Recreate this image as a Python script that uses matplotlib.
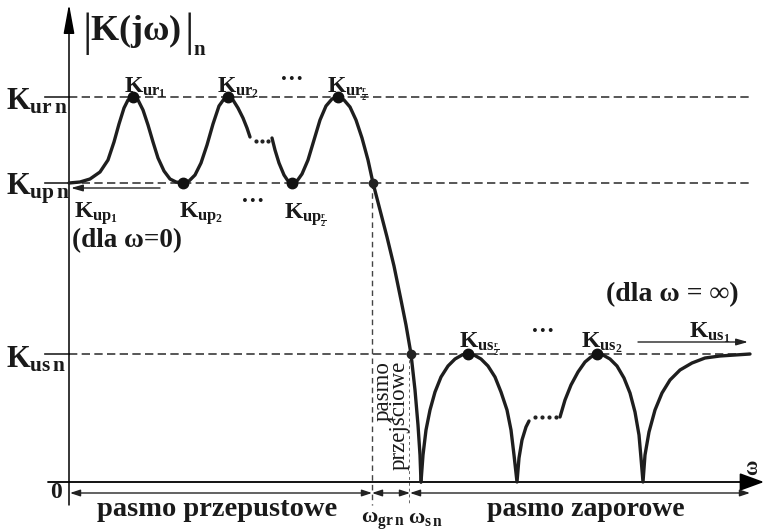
import matplotlib
matplotlib.use("Agg")
import matplotlib.pyplot as plt
import matplotlib.transforms as mtransforms

plt.rcParams['font.family'] = ['Liberation Serif', 'DejaVu Serif']
plt.rcParams['font.weight'] = 'bold'
plt.rcParams['mathtext.fontset'] = 'custom'
plt.rcParams['mathtext.rm'] = 'Liberation Serif:bold'
plt.rcParams['mathtext.it'] = 'Liberation Serif:bold'
plt.rcParams['mathtext.bf'] = 'Liberation Serif:bold'

# characteristic levels |K(jw)|_n and band edges
K_urn = 3.86
K_upn = 3.00
K_usn = 1.29
w_grn = 3.03
w_sn = 3.41
w_end = 6.81

# response, piece by piece (gaps are the "..." parts)
w_a = [0, 0.11, 0.21, 0.31, 0.39, 0.45, 0.50, 0.55, 0.59, 0.64, 0.69, 0.74, 0.79, 0.84,
       0.89, 0.95, 1.01, 1.07, 1.14, 1.20, 1.26, 1.32, 1.38, 1.44, 1.50, 1.55, 1.59, 1.64,
       1.69, 1.74, 1.78, 1.81]
k_a = [3.00, 3.01, 3.04, 3.11, 3.23, 3.41, 3.59, 3.75, 3.83, 3.86, 3.83, 3.73, 3.58, 3.41,
       3.25, 3.12, 3.04, 3.01, 3.00, 3.02, 3.08, 3.20, 3.38, 3.59, 3.77, 3.84, 3.86, 3.83,
       3.75, 3.65, 3.55, 3.46]

w_b = [2.03, 2.06, 2.10, 2.15, 2.19, 2.23, 2.28, 2.33, 2.39, 2.45, 2.51, 2.57, 2.63, 2.69,
       2.75, 2.81, 2.87, 2.93, 2.99, 3.04, 3.11, 3.18, 3.25, 3.32, 3.37, 3.42, 3.46, 3.49,
       3.51, 3.52]
k_b = [3.45, 3.33, 3.20, 3.08, 3.02, 3.00, 3.02, 3.09, 3.23, 3.43, 3.63, 3.77, 3.84, 3.86,
       3.83, 3.76, 3.63, 3.45, 3.23, 3.00, 2.73, 2.46, 2.17, 1.83, 1.58, 1.29, 0.93, 0.58,
       0.28, 0.01]

w_c = [3.52, 3.54, 3.57, 3.61, 3.66, 3.72, 3.79, 3.86, 3.93, 3.99, 4.05, 4.12, 4.19, 4.26,
       4.32, 4.38, 4.42, 4.45, 4.48, 4.50, 4.53, 4.57, 4.60]
k_c = [0.01, 0.28, 0.53, 0.73, 0.91, 1.06, 1.17, 1.24, 1.28, 1.29, 1.28, 1.24, 1.17, 1.06,
       0.91, 0.73, 0.53, 0.28, 0.01, 0.25, 0.43, 0.56, 0.62]

w_d = [4.91, 4.96, 5.02, 5.09, 5.16, 5.22, 5.28, 5.34, 5.41, 5.48, 5.55, 5.61, 5.66, 5.70,
       5.72, 5.74, 5.76, 5.80, 5.86, 5.93, 6.01, 6.11, 6.23, 6.36, 6.51, 6.66, 6.81]
k_d = [0.66, 0.83, 0.98, 1.11, 1.21, 1.26, 1.29, 1.28, 1.24, 1.17, 1.05, 0.90, 0.71, 0.48,
       0.25, 0.01, 0.28, 0.51, 0.73, 0.90, 1.03, 1.13, 1.20, 1.25, 1.27, 1.28, 1.29]

# marked extrema
w_ur = [0.64, 1.59, 2.69]
w_up = [1.14, 2.23]
w_us = [3.99, 5.28]
w_cross = [3.04, 3.42]
k_cross = [3.00, 1.29]

# "..." dots on the curve
w_dots1 = [1.87, 1.93, 1.99]
k_dots1 = [3.42, 3.42, 3.42]
w_dots2 = [4.66, 4.73, 4.80, 4.87]
k_dots2 = [0.66, 0.66, 0.66, 0.66]

fig = plt.figure(figsize=(7.64, 5.31), dpi=100)
ax = fig.add_axes([0, 0, 1, 1])
ax.set_xlim(-0.69, 6.95)
ax.set_ylim(-0.48, 4.83)
ax.axis('off')

# helper transform: positions given in pixels of the 764x531 picture (top-left origin)
pix = mtransforms.Affine2D().scale(1 / 764, -1 / 531).translate(0, 1) + fig.transFigure

curve = dict(color='#1e1e1e', lw=2.4, solid_capstyle='round', zorder=4)
dash = dict(color='#3a3a3a', lw=1.2, dashes=(5, 2.6), zorder=2)

# dashed levels and short solid ticks on the left
for lev in [K_urn, K_upn, K_usn]:
    ax.plot([0, w_end], [lev, lev], **dash)
    ax.plot([-0.24, 0], [lev, lev], color='#222', lw=1.2)

# vertical dashed band edges
ax.plot([w_grn, w_grn], [K_upn, -0.22], color='#444', lw=1.0, dashes=(4, 3))
ax.plot([w_sn - 0.01, w_sn - 0.01], [K_usn, -0.2], color='#666', lw=0.7, dashes=(3, 3))

# axes
ax.annotate('', xy=(6.95, 0.01), xytext=(-0.21, 0.01),
            arrowprops=dict(arrowstyle='-|>,head_length=1.5,head_width=0.55', lw=1.3,
                            color='black', shrinkA=0, shrinkB=0))
ax.annotate('', xy=(0, 4.79), xytext=(0, -0.22),
            arrowprops=dict(arrowstyle='-|>,head_length=1.8,head_width=0.33', lw=1.1,
                            color='black', shrinkA=0, shrinkB=0))

# band arrows under the axis
arr = dict(arrowstyle='<|-|>,head_length=0.6,head_width=0.2', lw=1.0, color='#222',
           shrinkA=0, shrinkB=0)
ax.annotate('', xy=(0.01, -0.10), xytext=(w_grn, -0.10), arrowprops=arr)
ax.annotate('', xy=(w_grn, -0.10), xytext=(w_sn, -0.10), arrowprops=arr)
ax.annotate('', xy=(w_sn, -0.10), xytext=(w_end, -0.10), arrowprops=arr)

# small arrows for K_up1 and K_us1
ax.annotate('', xy=(0.02, 2.95), xytext=(0.91, 2.95),
            arrowprops=dict(arrowstyle='-|>,head_length=0.7,head_width=0.2', lw=1.0,
                            color='#222', shrinkA=0, shrinkB=0))
ax.annotate('', xy=(6.79, 1.41), xytext=(5.69, 1.41),
            arrowprops=dict(arrowstyle='-|>,head_length=0.7,head_width=0.2', lw=1.0,
                            color='#222', shrinkA=0, shrinkB=0))

# response curve
ax.plot(w_a, k_a, **curve)
ax.plot(w_b, k_b, **curve)
ax.plot(w_c, k_c, **curve)
ax.plot(w_d, k_d, **curve)
ax.plot(w_dots1, k_dots1, 'o', color='#222', ms=2)
ax.plot(w_dots2, k_dots2, 'o', color='#222', ms=2)

# markers
ax.plot(w_ur, [K_urn] * len(w_ur), 'o', color='#111', ms=7.5, zorder=5)
ax.plot(w_up, [K_upn] * len(w_up), 'o', color='#111', ms=7.5, zorder=5)
ax.plot(w_us, [K_usn] * len(w_us), 'o', color='#111', ms=7.5, zorder=5)
ax.plot(w_cross, k_cross, 'o', color='#222', ms=6, zorder=5)

# labels
def lab(x, y, s, fs=17, **kw):
    ax.text(x, y, s, transform=pix, fontsize=fs, color='#1a1a1a', **kw)

# title |K(jw)|_n with tall bars
lab(82, 34, '|', fs=34, va='center', fontweight='normal')
lab(90, 40, r'$K(j\omega)$', fs=26, va='baseline')
lab(184, 34, '|', fs=34, va='center', fontweight='normal')
lab(193, 55, 'n', fs=15, va='baseline')

lab(6, 109, r'$K_{ur\,n}$', fs=22, va='baseline')
lab(6, 194, r'$K_{up\,n}$', fs=22, va='baseline')
lab(6, 368, r'$K_{us\,n}$', fs=22, va='baseline')

lab(124, 92, r'$K_{ur_1}$', va='baseline')
lab(217, 92, r'$K_{ur_2}$', va='baseline')
lab(292, 80, '···', ha='center', va='center')
lab(327, 92, r'$K_{ur_{\frac{r}{2}}}$', va='baseline')

lab(74, 218, r'$K_{up_1}$', va='baseline')
lab(72, 241, '(dla ω=0)', fs=19.5, va='center')
lab(179, 218, r'$K_{up_2}$', va='baseline')
lab(253, 202, '···', ha='center', va='center')
lab(284, 218, r'$K_{up_{\frac{r}{2}}}$', va='baseline')

lab(459, 347, r'$K_{us_{\frac{r}{2}}}$', va='baseline')
lab(543, 332, '···', ha='center', va='center')
lab(581, 347, r'$K_{us_2}$', va='baseline')
lab(606, 295, '(dla ω = ∞)', fs=20, va='center')
lab(689, 337, r'$K_{us_1}$', va='baseline')

lab(56, 493, '0', ha='center', va='center')
lab(97, 510, 'pasmo przepustowe', fs=20.5, va='center')
lab(487, 510, 'pasmo zaporowe', fs=20, va='center')
lab(361, 523, r'$\omega_{gr\,n}$', fs=16, va='baseline')
lab(408, 523, r'$\omega_{s\,n}$', fs=16, va='baseline')
lab(391, 361, 'pasmo\nprzejściowe', fs=16.5, rotation=90, ha='center', va='top',
    multialignment='right', linespacing=0.72, fontweight='normal')
lab(752, 467, 'ω', fs=15, rotation=90, ha='center', va='center')

fig.savefig('out.png', dpi=100)
